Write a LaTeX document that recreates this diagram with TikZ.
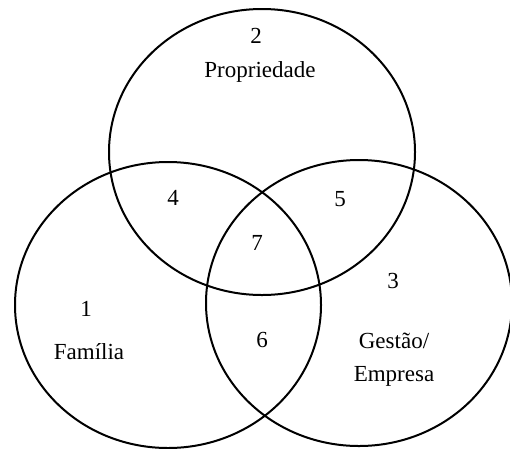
\documentclass[tikz,border=0pt]{standalone}
\usepackage{fontspec}
\setmainfont{Liberation Serif}
\usetikzlibrary{positioning, shapes.geometric}

\begin{document}
\begin{tikzpicture}
    [
        x=1pt, y=-1pt,
        ring/.style={ellipse, draw=black, line width=2pt, minimum width=306pt, minimum height=286pt, inner sep=0pt},
        lbl/.style={font=\fontsize{23}{33}\selectfont, inner sep=0pt, align=center},
    ]

  \useasboundingbox (0,0) rectangle (510,448);

  \node[ring] (prop) at (262,152) {};
  \node[ring] (fam) at (168,305) {};
  \node[ring] (gest) at (359,303) {};

  \node[lbl] (n2) at (256,36) {2};
  \node[lbl] (tprop) at (260,72) {Propriedade};
  \node[lbl] (n4) at (173,198) {4};
  \node[lbl] (n5) at (340,199) {5};
  \node[lbl] (n7) at (257,243) {7};
  \node[lbl] (n3) at (393,281) {3};
  \node[lbl] (n1) at (86,309) {1};
  \node[lbl] (tfam) at (89,352) {Família};
  \node[lbl] (n6) at (262,340) {6};
  \node[lbl] (tgest) at (394,360) {Gestão/\\Empresa};
\end{tikzpicture}
\end{document}
